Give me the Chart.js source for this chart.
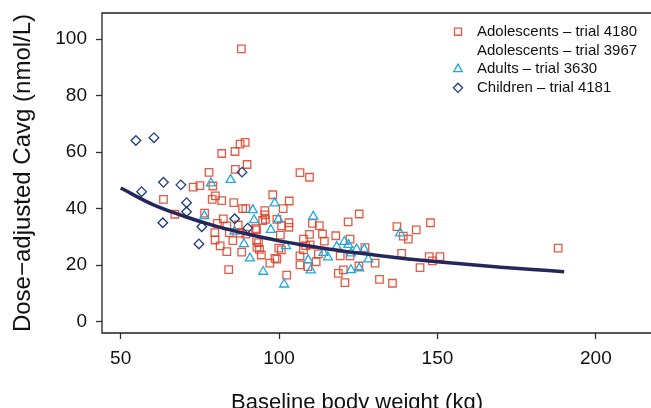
<!DOCTYPE html>
<html><head><meta charset="utf-8">
<script src="https://cdn.jsdelivr.net/npm/chart.js@4/dist/chart.umd.min.js"></script>
<style>html,body{margin:0;padding:0;background:#fff;overflow:hidden}#wrap{width:651px;height:408px;position:relative}</style>
</head><body><div id="wrap"><canvas id="c" width="651" height="408"></canvas></div>
<script>
// ---- data ----
const xTicks = [50, 100, 150, 200];
const yTicks = [0, 20, 40, 60, 80, 100];
const xTitle = 'Baseline body weight (kg)';
const yTitle = 'Dose\u2212adjusted Cavg (nmol/L)';

const adol4180Label = 'Adolescents \u2013 trial 4180';
const adol4180Weight = [88.1,87.7,89.3,81.9,86.1,89.9,86.2,77.9,106.6,72.9,75.0,79.1,63.5,79.9,78.9,81.9,85.7,98.0,103.2,101.3,88.5,89.5,95.5,95.5,95.7,94.8,67.1,76.5,82.4,80.5,83.5,87.1,92.9,103.1,103.1,100.8,79.7,84.3,87.7,89.5,92.6,100.4,79.8,85.4,92.9,93.5,81.4,83.5,88.2,93.0,93.8,94.4,99.9,100.7,106.6,99.3,97.1,106.6,84.1,102.4,109.6,99.3,125.3,121.8,112.7,110.5,109.6,113.7,117.9,107.7,109.8,114.3,108.4,122.4,127.1,98.7,107.7,112.4,109.1,111.7,119.3,122.4,130.3,118.7,120.3,125.2,120.8,131.7,135.8,137.2,139.2,140.8,143.3,147.8,138.7,144.5,147.4,148.4,150.8,188.1];
const adol4180Cavg = [96.5,62.8,63.4,59.5,60.2,55.6,53.9,52.8,52.7,47.6,48.1,48.0,43.3,44.5,43.3,42.8,42.1,44.9,42.7,40.0,40.0,40.0,39.3,37.8,36.2,35.8,38.0,38.4,36.4,34.8,33.9,34.2,32.5,35.0,33.4,33.9,31.5,31.5,31.3,31.0,32.9,30.6,28.9,28.7,28.9,28.0,26.8,24.8,24.6,26.3,25.6,23.6,26.0,25.4,23.3,22.1,20.7,20.1,18.4,16.5,51.1,36.2,38.1,35.3,34.0,34.8,30.9,31.0,30.4,29.2,27.2,28.5,26.9,29.2,26.2,22.4,25.4,24.0,19.5,21.2,23.3,23.3,20.7,17.1,18.3,19.7,13.8,15.0,13.6,33.6,30.3,29.2,32.5,35.0,24.2,19.1,23.0,21.5,23.0,26.0];

const adol3967Label = 'Adolescents \u2013 trial 3967';
const adol3967Weight = [];
const adol3967Cavg = [];

const adultsLabel = 'Adults \u2013 trial 3630';
const adultsWeight = [78.5,84.7,76.4,91.7,98.6,92.1,99.8,97.4,85.9,88.9,102.2,90.8,95.0,101.6,110.8,138.2,109.2,110.0,114.0,115.4,120.6,121.9,122.7,124.5,126.9,128.2,122.7,125.3,118.2];
const adultsCavg = [49.0,50.2,37.4,39.5,41.9,36.0,36.2,32.5,31.9,27.5,26.8,22.4,17.7,13.2,37.2,31.3,21.8,18.2,24.4,22.8,28.3,27.2,24.2,25.6,25.6,22.1,18.3,18.9,26.5];

const childrenLabel = 'Children \u2013 trial 4181';
const childrenWeight = [54.8,60.5,88.3,63.5,56.6,69.0,70.8,70.8,63.3,75.6,74.7,86.0,90.1];
const childrenCavg = [64.1,65.1,52.9,49.3,46.0,48.4,42.1,38.9,35.0,33.6,27.5,36.4,33.1];

const fitWeight = [50,60,70,80,90,100,110,120,130,140,150,160,170,180,190];
const fitCavg = [47.3,41.5,37.3,33.8,31.0,28.6,26.7,25.0,23.6,22.3,21.2,20.2,19.3,18.5,17.7];

// ---- build ----
const pts = (xs, ys) => xs.map((x, i) => ({x, y: ys[i]}));
const FONT = '"Liberation Sans", Arial, Helvetica, sans-serif';
Chart.defaults.font.family = FONT;
Chart.defaults.color = '#111';

const RED = 'rgba(222,62,36,0.85)';
const CYAN = '#1fa8e0';
const NAVY = '#1f3c7c';

const zeroPad = s => { s.paddingTop = 0; s.paddingBottom = 0; s.paddingLeft = 0; s.paddingRight = 0; };

const frame = {
  id: 'frame',
  afterDatasetsDraw(chart) {
    const {ctx, chartArea: a} = chart;
    ctx.save();
    ctx.strokeStyle = '#222';
    ctx.lineWidth = 1.3;
    ctx.beginPath();
    ctx.moveTo(chart.width, a.top); ctx.lineTo(a.left, a.top);
    ctx.lineTo(a.left, a.bottom); ctx.lineTo(chart.width, a.bottom);
    ctx.stroke();
    ctx.restore();
  }
};

const cornerLegend = {
  id: 'cornerLegend',
  afterDraw(chart) {
    const ctx = chart.ctx;
    const items = chart.data.datasets.filter(d => d.legendRank !== undefined)
      .sort((p, q) => p.legendRank - q.legendRank);
    ctx.save();
    ctx.font = '15px ' + FONT;
    ctx.textBaseline = 'middle';
    ctx.textAlign = 'left';
    items.forEach((d, i) => {
      const y = 31.7 + i * 18.7;
      if (d.legendMarker !== false && Chart.helpers && Chart.helpers.drawPoint) {
        ctx.fillStyle = 'rgba(0,0,0,0)';
        ctx.strokeStyle = d.borderColor;
        ctx.lineWidth = d.borderWidth;
        Chart.helpers.drawPoint(ctx, {pointStyle: d.pointStyle, radius: d.pointRadius * 0.95, rotation: 0, borderWidth: d.borderWidth}, 458, y);
      }
      ctx.fillStyle = '#111';
      ctx.fillText(d.label, 477, y);
    });
    ctx.restore();
  }
};

new Chart(document.getElementById('c'), {
  type: 'scatter',
  data: {
    datasets: [
      {label: 'fit', type: 'line', data: pts(fitWeight, fitCavg), borderColor: '#23275c', borderWidth: 3.5,
       pointRadius: 0, fill: false, cubicInterpolationMode: 'monotone', order: 0},
      {label: childrenLabel, data: pts(childrenWeight, childrenCavg), pointStyle: 'rectRot', pointRadius: 4.8,
       borderColor: NAVY, backgroundColor: 'rgba(0,0,0,0)', borderWidth: 1.3, order: 1, legendRank: 3},
      {label: adultsLabel, data: pts(adultsWeight, adultsCavg), pointStyle: 'triangle', pointRadius: 5.2,
       borderColor: CYAN, backgroundColor: 'rgba(0,0,0,0)', borderWidth: 1.3, order: 2, legendRank: 2},
      {label: adol3967Label, data: pts(adol3967Weight, adol3967Cavg), pointStyle: 'rect', pointRadius: 5.3,
       borderColor: 'rgba(0,0,0,0)', backgroundColor: 'rgba(0,0,0,0)', borderWidth: 1.3, order: 3, legendRank: 1, legendMarker: false},
      {label: adol4180Label, data: pts(adol4180Weight, adol4180Cavg), pointStyle: 'rect', pointRadius: 5.3,
       borderColor: RED, backgroundColor: 'rgba(0,0,0,0)', borderWidth: 1.3, order: 4, legendRank: 0}
    ]
  },
  options: {
    responsive: false,
    animation: false,
    devicePixelRatio: 1,
    layout: {padding: {left: 0, right: 39, top: 13, bottom: 0}},
    plugins: {legend: {display: false}, tooltip: {enabled: false}},
    scales: {
      x: {
        type: 'linear', min: 44.1, max: 205.1,
        afterBuildTicks: s => { s.ticks = xTicks.map(v => ({value: v})); },
        afterFit: s => { s.height = 75; zeroPad(s); },
        border: {display: false},
        grid: {drawOnChartArea: false, drawTicks: true, tickLength: 6, tickWidth: 1.3, tickColor: '#333'},
        ticks: {font: {size: 19}, color: '#111', padding: 8, maxRotation: 0, autoSkip: false},
        title: {display: true, text: xTitle, font: {size: 22, lineHeight: 1}, color: '#111', padding: {top: 0, bottom: -6}}
      },
      y: {
        type: 'linear', min: -4.0, max: 109.2,
        afterBuildTicks: s => { s.ticks = yTicks.map(v => ({value: v})); },
        afterFit: s => { s.width = 102; zeroPad(s); },
        border: {display: false},
        grid: {drawOnChartArea: false, drawTicks: true, tickLength: 6, tickWidth: 1.3, tickColor: '#333'},
        ticks: {font: {size: 19}, color: '#111', padding: 9, autoSkip: false},
        title: {display: true, text: yTitle, font: {size: 24, lineHeight: 1}, color: '#111', padding: {top: 11, bottom: 0}}
      }
    }
  },
  plugins: [frame, cornerLegend]
});
</script></body></html>
